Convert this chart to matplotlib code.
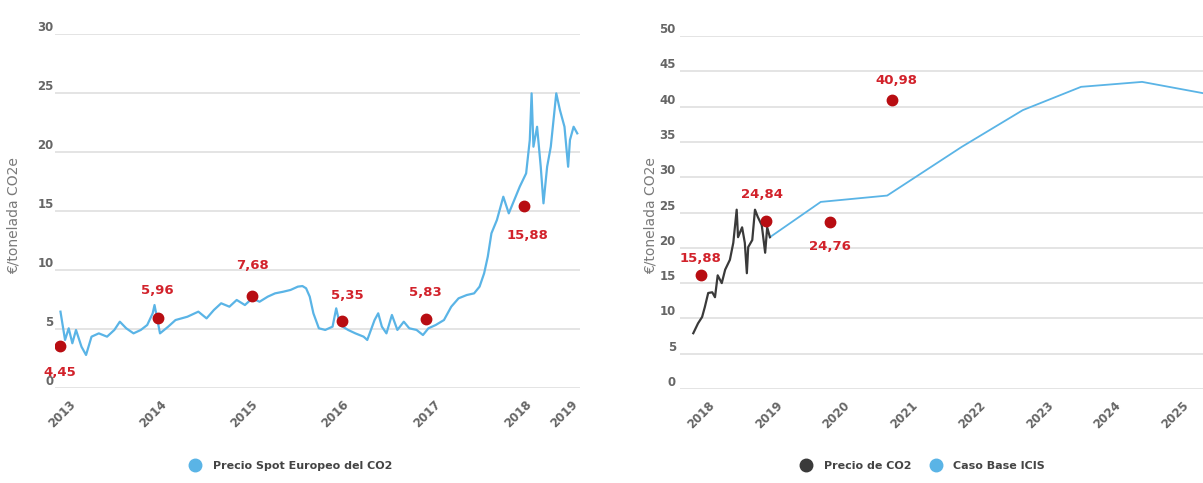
#!/usr/bin/env python3
"""
Two-panel CO2 price chart: historical EU spot price (left) and
ICIS base case forecast vs. recent price (right).
"""

import matplotlib
matplotlib.use("Agg")
import matplotlib.pyplot as plt
from matplotlib.lines import Line2D

# ---- left panel: European spot price (decimal year, EUR/t) ----
spot_years = [2012.81, 2012.86, 2012.90, 2012.94, 2012.98, 2013.04, 2013.09, 2013.15,
              2013.23, 2013.32, 2013.40, 2013.46, 2013.53, 2013.61, 2013.69, 2013.76,
              2013.82, 2013.84, 2013.90, 2013.99, 2014.07, 2014.20, 2014.32, 2014.41,
              2014.49, 2014.57, 2014.66, 2014.74, 2014.83, 2014.91, 2014.99, 2015.08,
              2015.16, 2015.25, 2015.33, 2015.41, 2015.46, 2015.50, 2015.54, 2015.58,
              2015.64, 2015.71, 2015.79, 2015.83, 2015.87, 2015.96, 2016.04, 2016.13,
              2016.17, 2016.25, 2016.29, 2016.33, 2016.38, 2016.44, 2016.50, 2016.57,
              2016.63, 2016.71, 2016.78, 2016.84, 2016.92, 2017.01, 2017.09, 2017.17,
              2017.26, 2017.34, 2017.40, 2017.45, 2017.49, 2017.53, 2017.59, 2017.66,
              2017.72, 2017.78, 2017.84, 2017.91, 2017.95, 2017.97, 2017.99, 2018.03,
              2018.07, 2018.10, 2018.14, 2018.18, 2018.24, 2018.28, 2018.33, 2018.37,
              2018.39, 2018.43, 2018.47]
spot_price = [6.47, 4.07, 5.06, 3.79, 4.92, 3.50, 2.80, 4.35,
              4.63, 4.35, 4.92, 5.62, 5.06, 4.63, 4.92, 5.34,
              6.33, 7.03, 4.63, 5.20, 5.76, 6.04, 6.47, 5.90,
              6.61, 7.18, 6.89, 7.46, 7.03, 7.60, 7.31, 7.74,
              8.02, 8.16, 8.31, 8.59, 8.64, 8.45, 7.74, 6.33,
              5.06, 4.92, 5.20, 6.75, 5.34, 4.92, 4.63, 4.35,
              4.07, 5.76, 6.33, 5.20, 4.63, 6.19, 4.92, 5.62,
              5.06, 4.92, 4.49, 5.06, 5.34, 5.76, 6.89, 7.60,
              7.88, 8.02, 8.59, 9.72, 11.13, 13.11, 14.24, 16.21,
              14.80, 15.93, 17.06, 18.19, 21.02, 24.97, 20.45, 22.14,
              18.75, 15.65, 18.75, 20.45, 24.97, 23.56, 22.14, 18.75,
              21.02, 22.14, 21.58]

left_dot_years = [2012.80, 2013.875, 2014.91, 2015.89, 2016.81, 2017.89]
left_dot_values = [3.56, 5.93, 7.80, 5.68, 5.82, 15.40]
left_dot_labels = ["4,45", "5,96", "7,68", "5,35", "5,83", "15,88"]

left_tick_pos = [2013, 2014, 2015, 2016, 2017, 2018, 2018.5]
left_tick_labels = ["2013", "2014", "2015", "2016", "2017", "2018", "2019"]
left_yticks = [0, 5, 10, 15, 20, 25, 30]

# ---- right panel: recent price and ICIS base case ----
price_years = [2017.65, 2017.72, 2017.78, 2017.82, 2017.87, 2017.93, 2017.97, 2018.01,
               2018.07, 2018.12, 2018.19, 2018.24, 2018.29, 2018.31, 2018.37, 2018.41,
               2018.44, 2018.46, 2018.52, 2018.56, 2018.60, 2018.66, 2018.71, 2018.74,
               2018.78]
price_co2 = [7.9, 9.3, 10.2, 11.6, 13.6, 13.7, 13.0, 16.1,
             15.0, 16.9, 18.3, 20.7, 25.4, 21.5, 22.9, 20.7,
             16.4, 20.1, 21.1, 25.4, 24.4, 23.2, 19.3, 22.9,
             21.5]

icis_years = [2018.78, 2019.53, 2020.51, 2021.61, 2022.51, 2023.37, 2024.27, 2025.17]
icis_base = [21.5, 26.5, 27.4, 34.3, 39.5, 42.8, 43.5, 41.9]

right_dot_years = [2017.76, 2018.72, 2019.67, 2020.58]
right_dot_values = [16.1, 23.8, 23.7, 40.9]
right_dot_labels = ["15,88", "24,84", "24,76", "40,98"]

right_tick_pos = [2018, 2019, 2020, 2021, 2022, 2023, 2024, 2025]
right_tick_labels = [str(y) for y in right_tick_pos]
right_yticks = [0, 5, 10, 15, 20, 25, 30, 35, 40, 45, 50]

# label offsets in points (dx, dy) -- styling only
left_label_offsets = [(0, -19), (0, 20), (0, 22), (4, 18), (0, 19), (2, -21)]
right_label_offsets = [(0, 12), (-3, 19), (0, -18), (3, 14)]

BLUE = "#5ab4e6"
DARK = "#3a3a3a"
DOT_RED = "#b80d12"
TEXT_RED = "#d2222b"
GRID = "#e4e4e4"
TICK_GRAY = "#666666"


def style_axis(ax, yticks, ylim, ypad):
    """Grid-only look: no spines, no tick marks, labels sitting above grid lines"""
    for s in ax.spines.values():
        s.set_visible(False)
    ax.set_ylim(*ylim)
    ax.set_yticks(yticks)
    ax.set_yticklabels([str(v) for v in yticks], va="bottom",
                       fontsize=8.5, fontweight="bold", color=TICK_GRAY)
    ax.tick_params(axis="both", length=0)
    ax.tick_params(axis="y", pad=ypad)
    ax.tick_params(axis="x", pad=7)
    ax.grid(True, axis="y", color=GRID, linewidth=1.4)
    ax.set_axisbelow(True)


def add_dots(ax, xs, ys, labels, offsets):
    ax.plot(xs, ys, "o", color=DOT_RED, markersize=7.5, zorder=5)
    for x, y, lab, off in zip(xs, ys, labels, offsets):
        ax.annotate(lab, (x, y), xytext=off, textcoords="offset points",
                    ha="center", va="center", color=TEXT_RED,
                    fontsize=9.5, fontweight="bold", zorder=6)


def main():
    fig = plt.figure(figsize=(12.03, 4.83), dpi=100)
    W, H = 1203.0, 483.0

    # Left panel
    ax1 = fig.add_axes([55 / W, 1 - 388 / H, (580 - 55) / W, (388 - 34) / H])
    style_axis(ax1, left_yticks, (0, 30), 1)
    ax1.plot(spot_years, spot_price, color=BLUE, linewidth=1.6, zorder=3)
    ax1.set_xlim(2012.75, 2018.5)
    ax1.set_xticks(left_tick_pos)
    ax1.set_xticklabels(left_tick_labels, rotation=45, ha="right",
                        fontsize=8.5, fontweight="bold", color=TICK_GRAY)
    add_dots(ax1, left_dot_years, left_dot_values, left_dot_labels, left_label_offsets)

    # Right panel (runs off the right edge like the original)
    ax2 = fig.add_axes([680 / W, 1 - 389 / H, (1203 - 680) / W, (389 - 36) / H])
    style_axis(ax2, right_yticks, (0, 50), 3)
    ax2.plot(icis_years, icis_base, color=BLUE, linewidth=1.3, zorder=3)
    ax2.plot(price_years, price_co2, color=DARK, linewidth=1.6, zorder=4)
    ax2.set_xlim(2017.454, 2025.168)
    ax2.set_xticks(right_tick_pos)
    ax2.set_xticklabels(right_tick_labels, rotation=45, ha="right",
                        fontsize=8.5, fontweight="bold", color=TICK_GRAY)
    add_dots(ax2, right_dot_years, right_dot_values, right_dot_labels, right_label_offsets)

    # Y axis titles
    for xpx in (14, 651):
        fig.text(xpx / W, 1 - 216 / H, "€/tonelada CO2e", rotation=90,
                 ha="center", va="center", fontsize=10, color="#7a7a7a")

    # Legends
    def dot_handle(c, lab):
        return Line2D([0], [0], marker="o", linestyle="none", markersize=9,
                      markerfacecolor=c, markeredgecolor=c, label=lab)

    leg_kw = dict(frameon=False, handletextpad=0.6, columnspacing=1.2,
                  prop={"size": 8, "weight": "bold"}, labelcolor="#444444")
    fig.legend(handles=[dot_handle(BLUE, "Precio Spot Europeo del CO2")],
               loc="center", bbox_to_anchor=(288 / W, 1 - 466 / H), **leg_kw)
    fig.legend(handles=[dot_handle(DARK, "Precio de CO2"), dot_handle(BLUE, "Caso Base ICIS")],
               loc="center", bbox_to_anchor=(920 / W, 1 - 466 / H), ncol=2, **leg_kw)

    fig.savefig("out.png", dpi=100, facecolor="white")


if __name__ == "__main__":
    main()
